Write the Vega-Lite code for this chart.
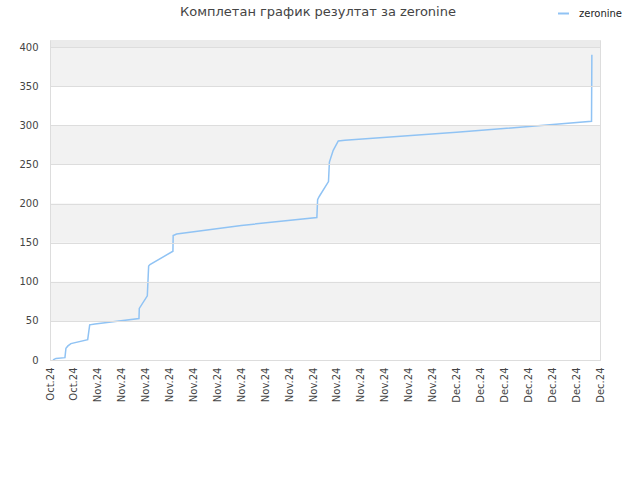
{
  "$schema": "https://vega.github.io/schema/vega-lite/v6.json",
  "width": 550,
  "height": 320,
  "autosize": {"type": "none"},
  "padding": {"left": 50, "top": 40, "right": 40, "bottom": 120},
  "background": "white",
  "title": {
    "text": "Комплетан график резултат за zeronine",
    "anchor": "middle",
    "frame": "group",
    "dx": -7,
    "offset": -12,
    "font": "DejaVu Sans",
    "fontSize": 13,
    "fontWeight": "normal",
    "color": "#444444"
  },
  "config": {
    "font": "DejaVu Sans",
    "view": {"stroke": "#dddddd", "strokeWidth": 1}
  },
  "datasets": {
    "bands": [
      {"lo": 50, "hi": 100, "shade": "band"},
      {"lo": 150, "hi": 200, "shade": "band"},
      {"lo": 250, "hi": 300, "shade": "band"},
      {"lo": 350, "hi": 400, "shade": "band"},
      {"lo": 400, "hi": 409, "shade": "top"}
    ],
    "scores": [
      {"t": "2024-10-28T06:00", "v": 0, "player": "zeronine"},
      {"t": "2024-10-28T12:00", "v": 2, "player": "zeronine"},
      {"t": "2024-10-29T06:00", "v": 3, "player": "zeronine"},
      {"t": "2024-10-29T08:00", "v": 15, "player": "zeronine"},
      {"t": "2024-10-29T12:00", "v": 18, "player": "zeronine"},
      {"t": "2024-10-29T18:00", "v": 21, "player": "zeronine"},
      {"t": "2024-10-31T03:40", "v": 26, "player": "zeronine"},
      {"t": "2024-10-31T07:40", "v": 45, "player": "zeronine"},
      {"t": "2024-10-31T18:15", "v": 46, "player": "zeronine"},
      {"t": "2024-11-04T10:35", "v": 53, "player": "zeronine"},
      {"t": "2024-11-04T11:15", "v": 66, "player": "zeronine"},
      {"t": "2024-11-05T03:20", "v": 82, "player": "zeronine"},
      {"t": "2024-11-05T06:00", "v": 120, "player": "zeronine"},
      {"t": "2024-11-05T08:40", "v": 122, "player": "zeronine"},
      {"t": "2024-11-07T06:45", "v": 139, "player": "zeronine"},
      {"t": "2024-11-07T07:15", "v": 159, "player": "zeronine"},
      {"t": "2024-11-07T14:10", "v": 161, "player": "zeronine"},
      {"t": "2024-11-13T00:00", "v": 172, "player": "zeronine"},
      {"t": "2024-11-19T07:40", "v": 182, "player": "zeronine"},
      {"t": "2024-11-19T09:10", "v": 205, "player": "zeronine"},
      {"t": "2024-11-19T12:25", "v": 209, "player": "zeronine"},
      {"t": "2024-11-20T07:00", "v": 228, "player": "zeronine"},
      {"t": "2024-11-20T08:50", "v": 253, "player": "zeronine"},
      {"t": "2024-11-20T16:30", "v": 268, "player": "zeronine"},
      {"t": "2024-11-21T02:40", "v": 280, "player": "zeronine"},
      {"t": "2024-11-21T16:00", "v": 281, "player": "zeronine"},
      {"t": "2024-12-01T00:00", "v": 291, "player": "zeronine"},
      {"t": "2024-12-12T07:00", "v": 305, "player": "zeronine"},
      {"t": "2024-12-12T07:40", "v": 390, "player": "zeronine"}
    ]
  },
  "layer": [
    {
      "data": {"name": "bands"},
      "mark": {"type": "rect"},
      "encoding": {
        "y": {
          "field": "lo",
          "type": "quantitative",
          "scale": {"domain": [0, 409], "nice": false, "zero": true},
          "axis": {
            "title": null,
            "values": [0, 50, 100, 150, 200, 250, 300, 350, 400],
            "labelFontSize": 10,
            "labelColor": "#444444",
            "labelPadding": 12,
            "labelOverlap": false,
            "ticks": false,
            "grid": true,
            "gridColor": "#dddddd",
            "domainColor": "#dddddd",
            "zindex": 1
          }
        },
        "y2": {"field": "hi"},
        "color": {
          "field": "shade",
          "type": "nominal",
          "scale": {"domain": ["band", "top"], "range": ["#f2f2f2", "#ebebeb"]},
          "legend": null
        }
      }
    },
    {
      "data": {"name": "scores"},
      "mark": {"type": "line", "strokeWidth": 1.5, "interpolate": "linear"},
      "encoding": {
        "x": {
          "field": "t",
          "type": "temporal",
          "scale": {
            "domain": [
              {"year": 2024, "month": 10, "date": 28},
              {"year": 2024, "month": 12, "date": 13}
            ],
            "nice": false
          },
          "axis": {
            "title": null,
            "format": "%b.%y",
            "values": [
              {"year": 2024, "month": 10, "date": 28},
              {"year": 2024, "month": 10, "date": 30},
              {"year": 2024, "month": 11, "date": 1},
              {"year": 2024, "month": 11, "date": 3},
              {"year": 2024, "month": 11, "date": 5},
              {"year": 2024, "month": 11, "date": 7},
              {"year": 2024, "month": 11, "date": 9},
              {"year": 2024, "month": 11, "date": 11},
              {"year": 2024, "month": 11, "date": 13},
              {"year": 2024, "month": 11, "date": 15},
              {"year": 2024, "month": 11, "date": 17},
              {"year": 2024, "month": 11, "date": 19},
              {"year": 2024, "month": 11, "date": 21},
              {"year": 2024, "month": 11, "date": 23},
              {"year": 2024, "month": 11, "date": 25},
              {"year": 2024, "month": 11, "date": 27},
              {"year": 2024, "month": 11, "date": 29},
              {"year": 2024, "month": 12, "date": 1},
              {"year": 2024, "month": 12, "date": 3},
              {"year": 2024, "month": 12, "date": 5},
              {"year": 2024, "month": 12, "date": 7},
              {"year": 2024, "month": 12, "date": 9},
              {"year": 2024, "month": 12, "date": 11},
              {"year": 2024, "month": 12, "date": 13}
            ],
            "labelAngle": -90,
            "labelAlign": "right",
            "labelBaseline": "middle",
            "labelPadding": 7,
            "labelFontSize": 10,
            "labelColor": "#444444",
            "labelOverlap": false,
            "labelFlush": false,
            "ticks": false,
            "grid": false,
            "domainColor": "#dddddd"
          }
        },
        "y": {
          "field": "v",
          "type": "quantitative",
          "axis": {
            "title": null,
            "values": [0, 50, 100, 150, 200, 250, 300, 350, 400],
            "labelFontSize": 10,
            "labelColor": "#444444",
            "labelPadding": 12,
            "labelOverlap": false,
            "ticks": false,
            "grid": true,
            "gridColor": "#dddddd",
            "domainColor": "#dddddd",
            "zindex": 1
          }
        },
        "color": {
          "field": "player",
          "type": "nominal",
          "scale": {"domain": ["zeronine"], "range": ["#90c3f4"]},
          "legend": {
            "title": null,
            "orient": "none",
            "legendX": 507,
            "legendY": -33,
            "padding": 0,
            "symbolType": "stroke",
            "symbolSize": 121,
            "symbolStrokeWidth": 2,
            "labelOffset": 9,
            "labelFontSize": 10,
            "labelColor": "#222222"
          }
        }
      }
    }
  ],
  "resolve": {"scale": {"color": "independent"}}
}
